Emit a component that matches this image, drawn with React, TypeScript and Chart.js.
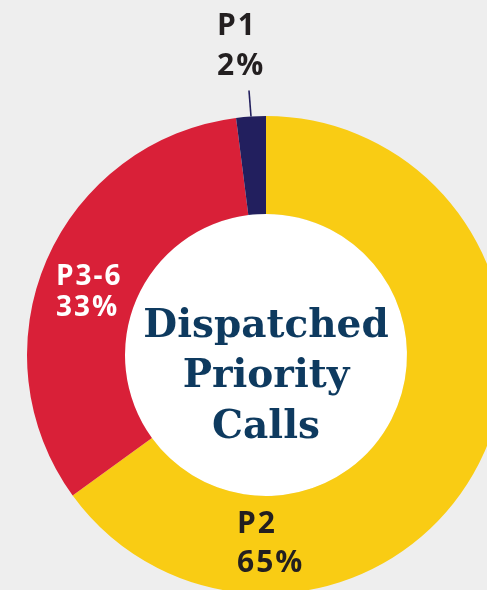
import React, { useEffect, useRef } from "react";
import { Chart, ArcElement, DoughnutController } from "chart.js";

Chart.register(ArcElement, DoughnutController);

const categories = ["P2", "P3-6", "P1"];
const values = [65, 33, 2];
const percentLabels = ["65%", "33%", "2%"];
const colors = ["#F9CC14", "#D92038", "#221F5E"];
const centerTitle = ["Dispatched", "Priority", "Calls"];

const labelFont = 'bold 30px "Open Sans", "Liberation Sans", sans-serif';
const smallLabelFont = 'bold 28px "Open Sans", "Liberation Sans", sans-serif';
const titleFont = 'bold 39px "DejaVu Serif", serif';

const labelPlugin = {
  id: "donutLabels",
  beforeDatasetsDraw(chart: any) {
    const meta = chart.getDatasetMeta(0);
    const a = meta.data[0];
    if (!a) return;
    const ctx = chart.ctx;
    ctx.save();
    ctx.beginPath();
    ctx.arc(a.x, a.y, a.innerRadius, 0, Math.PI * 2);
    ctx.fillStyle = "#ffffff";
    ctx.fill();
    ctx.restore();
  },
  afterDatasetsDraw(chart: any) {
    const meta = chart.getDatasetMeta(0);
    const a0 = meta.data[0];
    if (!a0) return;
    const cx = a0.x;
    const cy = a0.y;
    const ctx = chart.ctx;
    ctx.save();

    // centre title
    ctx.font = titleFont;
    ctx.fillStyle = "#0E3A5F";
    ctx.textAlign = "center";
    ctx.textBaseline = "alphabetic";
    const titleBase = [-18, 32, 83];
    centerTitle.forEach((t, i) => ctx.fillText(t, cx, cy + titleBase[i]));

    ctx.textAlign = "left";
    (ctx as any).letterSpacing = "2px";
    // P2
    ctx.font = labelFont;
    ctx.fillStyle = "#231F20";
    ctx.fillText(categories[0], cx - 29, cy + 178);
    ctx.fillText(percentLabels[0], cx - 29, cy + 217);

    // P3-6
    ctx.font = smallLabelFont;
    ctx.fillStyle = "#ffffff";
    ctx.fillText(categories[1], cx - 210, cy - 70);
    ctx.fillText(percentLabels[1], cx - 210, cy - 39);

    // P1 with leader line
    const a2 = meta.data[2];
    const mid = (a2.startAngle + a2.endAngle) / 2;
    const ox = cx + Math.cos(mid) * a2.outerRadius;
    const oy = cy + Math.sin(mid) * a2.outerRadius;
    ctx.beginPath();
    ctx.moveTo(ox, oy);
    ctx.lineTo(ox - 2, oy - 26);
    ctx.strokeStyle = "#221F5E";
    ctx.lineWidth = 1.6;
    ctx.stroke();

    ctx.font = labelFont;
    ctx.fillStyle = "#231F20";
    ctx.fillText(categories[2], cx - 49, cy - 320);
    ctx.fillText(percentLabels[2], cx - 49, cy - 280);

    ctx.restore();
  },
};

export default function App() {
  const ref = useRef<HTMLCanvasElement>(null);
  useEffect(() => {
    if (!ref.current) return;
    const chart = new Chart(ref.current, {
      type: "doughnut",
      data: {
        labels: categories,
        datasets: [
          {
            data: values,
            backgroundColor: colors,
            borderWidth: 0,
          },
        ],
      },
      options: {
        responsive: false,
        animation: false,
        devicePixelRatio: 1,
        radius: 239,
        cutout: "59%",
        rotation: 0,
        events: [],
        layout: { padding: 0 },
        plugins: { legend: { display: false }, tooltip: { enabled: false } } as any,
      } as any,
      plugins: [labelPlugin],
    });
    return () => chart.destroy();
  }, []);
  return (
    <div
      style={{
        position: "fixed",
        left: 0,
        top: 0,
        width: 487,
        height: 590,
        overflow: "hidden",
        background: "#EEEEEE",
      }}
    >
      <canvas
        ref={ref}
        width={532}
        height={710}
        style={{ position: "absolute", left: 0, top: 0, width: 532, height: 710 }}
      />
    </div>
  );
}
